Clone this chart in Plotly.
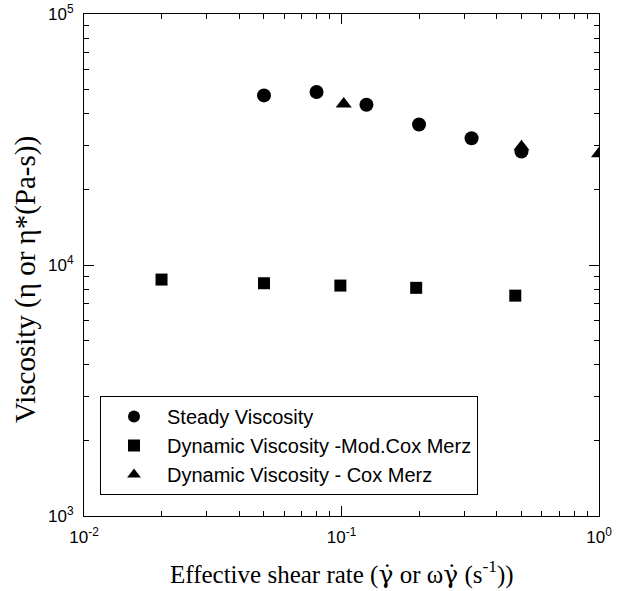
import plotly.graph_objects as go

# Data
steady_x = [0.05, 0.08, 0.125, 0.2, 0.32, 0.5]
steady_y = [47400, 48900, 43500, 36300, 32000, 28300]

modcm_x = [0.02, 0.05, 0.099, 0.195, 0.473]
modcm_y = [8750, 8460, 8280, 8110, 7550]

cm_x = [0.102, 0.5, 1.0]
cm_y = [43800, 29600, 27750]

x_tickvals = [0.01, 0.1, 1]
x_ticktext = ["10<sup>-2</sup>", "10<sup>-1</sup>", "10<sup>0</sup>"]
y_tickvals = [1e3, 1e4, 1e5]
y_ticktext = ["10<sup>3</sup>", "10<sup>4</sup>", "10<sup>5</sup>"]

names = ["Steady Viscosity", "Dynamic Viscosity -Mod.Cox Merz", "Dynamic Viscosity - Cox Merz"]

fig = go.Figure()
fig.add_trace(go.Scatter(x=steady_x, y=steady_y, mode="markers", name=names[0],
                         marker=dict(symbol="circle", size=14, color="black")))
fig.add_trace(go.Scatter(x=modcm_x, y=modcm_y, mode="markers", name=names[1],
                         marker=dict(symbol="square", size=12, color="black")))
fig.add_trace(go.Scatter(x=cm_x, y=cm_y, mode="markers", name=names[2],
                         marker=dict(symbol="triangle-up", size=14, color="black")))

minor_x = [m * 10 ** e for e in (-2, -1) for m in range(2, 10)]
minor_y = [m * 10 ** e for e in (3, 4) for m in range(2, 10)]

axis_common = dict(
    type="log", showgrid=False, zeroline=False, showline=True, linecolor="black",
    linewidth=1, mirror="allticks", ticks="inside", ticklen=10, tickcolor="black",
    tickfont=dict(family="Liberation Sans, Arial", size=17, color="black"),
    automargin=False,
)

fig.update_xaxes(**axis_common, range=[-2, 0], tickmode="array", tickvals=x_tickvals, ticktext=x_ticktext,
                 minor=dict(tickmode="array", tickvals=minor_x, ticks="inside", ticklen=5,
                            tickcolor="black", showgrid=False),
                 ticklabelstandoff=6)
fig.update_yaxes(**axis_common, range=[3, 5], tickmode="array", tickvals=y_tickvals, ticktext=y_ticktext,
                 minor=dict(tickmode="array", tickvals=minor_y, ticks="inside", ticklen=5,
                            tickcolor="black", showgrid=False),
                 ticklabelstandoff=6)

gdot = "<span style=\"font-family:'DejaVu Serif'\">γ̇</span>"
fig.add_annotation(text=f"Effective shear rate ({gdot} or ω{gdot} (s<sup>-1</sup>))", xref="paper", yref="paper",
                   x=0.5, y=-(572 - 516) / 502, xanchor="center", yanchor="middle",
                   showarrow=False, font=dict(family="Liberation Serif, Times New Roman", size=25, color="black"))
fig.add_annotation(text="Viscosity (η or η*(Pa-s))", xref="paper", yref="paper",
                   x=-(84 - 25) / 515, y=(516 - 280) / 502, xanchor="center", yanchor="middle",
                   textangle=-90, showarrow=False,
                   font=dict(family="Liberation Serif, Times New Roman", size=29, color="black"))

fig.update_layout(
    width=619, height=591,
    margin=dict(l=84, r=20, t=14, b=75),
    paper_bgcolor="white", plot_bgcolor="white",
    showlegend=True,
    legend=dict(x=(100 - 84) / 515, y=(516 - 396) / 502, xanchor="left", yanchor="top",
                bordercolor="black", borderwidth=1, bgcolor="white",
                font=dict(family="Liberation Sans, Arial", size=20, color="black"),
                itemwidth=56, itemsizing="constant"),
)

fig.write_html("out.html", config={"displayModeBar": False},
               post_script="document.body.style.margin='0';")
